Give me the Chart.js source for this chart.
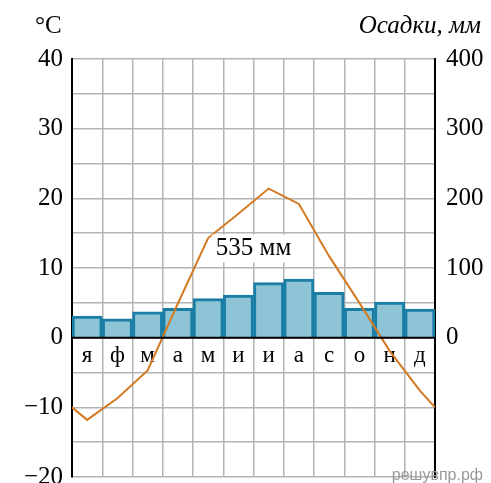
<!DOCTYPE html>
<html>
<head>
<meta charset="utf-8">
<script src="https://cdn.jsdelivr.net/npm/chart.js@4"></script>
<style>
  html, body { margin: 0; padding: 0; overflow: hidden; background: #fff; }
  #wrap { width: 491px; height: 483px; overflow: hidden; }
</style>
</head>
<body>
<div id="wrap"><canvas id="climate" width="491" height="500"></canvas></div>
<script>
const months = ['я', 'ф', 'м', 'а', 'м', 'и', 'и', 'а', 'с', 'о', 'н', 'д'];
const precip = [31, 27, 37, 42, 56, 61, 79, 84, 65, 42, 51, 41];
const temps = [-11.8, -8.7, -4.7, 4.9, 14.3, 17.8, 21.4, 19.2, 11.7, 5.0, -1.9, -7.6];
const tempEdge = -10;          // value where the curve meets the side axes
const totalLabel = '535 мм';
const tempTicks = [-20, -10, 0, 10, 20, 30, 40];
const precipTicks = [0, 100, 200, 300, 400];

const serif = 'Liberation Serif';
const gridGray = '#b4b4b4';

// line points: edge, month middles, edge
const tempPoints = [{ x: 0, y: tempEdge }];
temps.forEach((t, i) => tempPoints.push({ x: i + 0.5, y: t }));
tempPoints.push({ x: 12, y: tempEdge });

// fixed side widths, no extra room for end labels
function fixAxis(width) {
    return (s) => {
        s.width = width;
        s.paddingTop = 0;
        s.paddingBottom = 0;
    };
}

const extras = {
    id: 'extras',
    afterDatasetsDraw(chart) {
        const ctx = chart.ctx;
        const area = chart.chartArea;
        const yl = chart.scales.yl;
        const xl = chart.scales.xl;
        const zero = yl.getPixelForValue(0);
        ctx.save();
        ctx.strokeStyle = '#000';
        ctx.lineWidth = 2;
        ctx.beginPath();
        ctx.moveTo(area.left, zero);
        ctx.lineTo(area.right, zero);
        ctx.stroke();

        // total precipitation label
        ctx.font = '25px "' + serif + '"';
        ctx.textAlign = 'center';
        ctx.textBaseline = 'middle';
        const lx = xl.getPixelForValue(6.0);
        const ly = yl.getPixelForValue(12.8);
        const w = ctx.measureText(totalLabel).width;
        ctx.fillStyle = '#fff';
        ctx.fillRect(lx - w / 2 - 4, ly - 14, w + 8, 28);
        ctx.fillStyle = '#000';
        ctx.fillText(totalLabel, lx, ly);
        ctx.restore();
    },
    afterDraw(chart) {
        const ctx = chart.ctx;
        ctx.save();
        ctx.fillStyle = '#000';
        ctx.textBaseline = 'alphabetic';
        ctx.font = '25px "' + serif + '"';
        ctx.textAlign = 'left';
        ctx.fillText('°C', 35, 33);
        ctx.font = 'italic 25px "' + serif + '"';
        ctx.textAlign = 'right';
        ctx.fillText('Осадки, мм', 481, 33);
        ctx.font = '16px "Liberation Sans"';
        ctx.fillStyle = '#9a9a9a';
        ctx.fillText('решувпр.рф', 483, 480);
        ctx.restore();
    }
};

const ctx = document.getElementById('climate').getContext('2d');
const chart = new Chart(ctx, {
    data: {
        labels: months,
        datasets: [
            {
                type: 'line', label: 'Температура', data: tempPoints,
                xAxisID: 'xl', yAxisID: 'yl',
                borderColor: '#d47a22', borderWidth: 2, pointRadius: 0, tension: 0, fill: false, order: 0
            },
            {
                type: 'bar', label: 'Осадки', data: precip,
                xAxisID: 'x', yAxisID: 'yr', grouped: false,
                backgroundColor: '#8dc4d6', borderColor: '#1a7ea6', borderWidth: 3,
                borderSkipped: 'bottom', barPercentage: 1, categoryPercentage: 1, order: 1
            }
        ]
    },
    options: {
        responsive: false,
        animation: false,
        layout: { padding: { left: 0, right: 0, top: 59, bottom: 23 } },
        plugins: { legend: { display: false }, tooltip: { enabled: false } },
        scales: {
            x: {
                type: 'category', offset: true, position: { yl: 0 },
                grid: { offset: true, color: gridGray, lineWidth: 1.5, drawTicks: false },
                border: { display: false },
                ticks: { color: '#000', padding: 4, font: { family: serif, size: 23 } }
            },
            xl: { type: 'linear', display: false, min: 0, max: 12 },
            yl: {
                position: 'left', min: -20, max: 40,
                afterFit: fixAxis(72),
                grid: { color: gridGray, lineWidth: 1.5, drawTicks: false },
                border: { color: '#000', width: 2 },
                ticks: {
                    stepSize: 5, padding: 9, color: '#000', font: { family: serif, size: 25 },
                    callback: (v) => tempTicks.includes(v) ? String(v).replace('-', '\u2212') : ''
                }
            },
            yr: {
                position: 'right', min: -200, max: 400,
                afterFit: fixAxis(56),
                grid: { display: false, drawTicks: false },
                border: { color: '#000', width: 2 },
                ticks: {
                    stepSize: 100, padding: 11, color: '#000', font: { family: serif, size: 25 },
                    callback: (v) => precipTicks.includes(v) ? String(v) : ''
                }
            }
        }
    },
    plugins: [extras]
});
</script>
</body>
</html>
